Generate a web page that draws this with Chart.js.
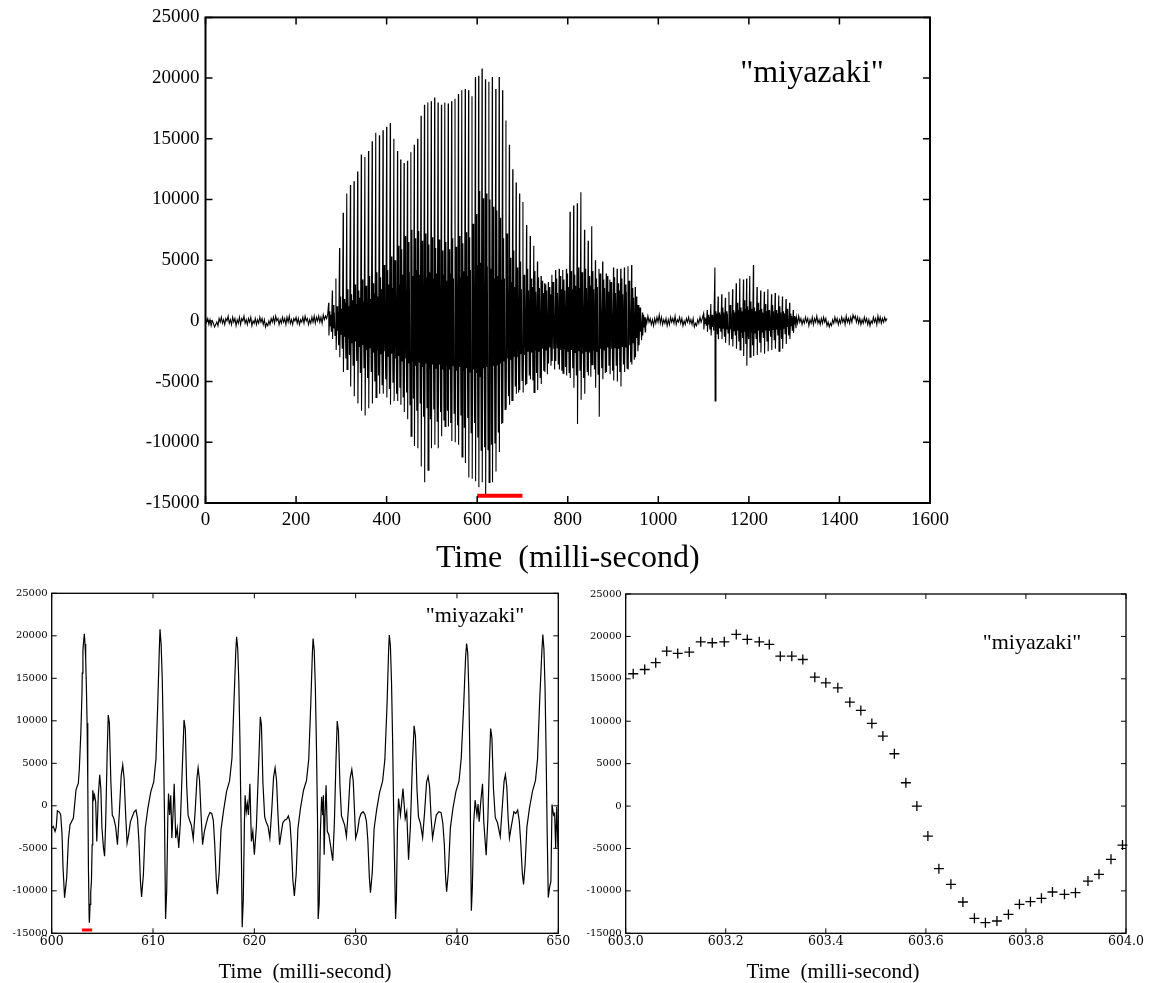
<!DOCTYPE html>
<html><head><meta charset="utf-8">
<script src="https://cdn.jsdelivr.net/npm/chart.js@4"></script>
<style>
html,body{margin:0;padding:0;background:#fff;width:1150px;height:983px;overflow:hidden;position:relative}
.box{position:absolute}
</style></head><body>
<div class="box" style="left:0;top:0;width:960px;height:590px"><canvas id="c1"></canvas></div>
<div class="box" style="left:0;top:570px;width:590px;height:413px"><canvas id="c2"></canvas></div>
<div class="box" style="left:580px;top:570px;width:570px;height:413px"><canvas id="c3"></canvas></div>
<script>
// ---------- DATA ----------
// Top chart: background noise samples (every 2.5 ms from the start time of each stretch)
const noise1Start = 0, noise2Start = 972, noise3Start = 1305, noiseStep = 2.5;
const noise1 = [300,-100,200,-300,100,-400,0,-200,-500,-300, -100,-400,200,-100,300,-200,100,-300,200,0,
  400,-200,100,-300,300,-100,200,-400,100,-200, 300,-300,200,0,400,-200,100,-300,200,-100,
  300,-400,0,-200,200,-300,100,-200,300,-100, 200,-300,100,-500,-200,-400,0,-300,200,-100,
  300,-200,400,0,200,-300,100,-200,300,-100, 200,-300,300,-100,400,-200,100,-300,200,0,
  300,-200,200,-300,100,-100,300,-200,400,0, 200,-300,100,-200,300,-100,400,-200,300,0,
  400,-100,300,-200,500,100,400,200,600];
const noise2 = [300,-200,400,-100,200,-300,100,-400,200,-200, 300,-100,500,-200,300,-300,100,-200,200,-400,
  100,-300,300,-100,200,-200,400,-300,100,-100, 300,-200,200,-400,0,-300,200,-100,300,-200,
  100,-300,200,-500,-200,-400,100,-200,300,-100, 200];
const noise3 = [300,-200,400,-100,200,-300,100,-200,300,-100, 200,-400,100,-200,300,-300,200,-100,400,-200,
  100,-300,200,-200,300,-100,200,-400,-100,-500, -200,-400,100,-200,300,-100,200,-300,100,-200,
  300,-100,200,-300,400,-100,200,-200,300,-100, 500,200,400,-100,300,-200,200,-300,100,-200,
  300,-100,200,-300,100,-400,0,-200,300,-100, 200,-300,400,-100,300,-200,200,-100,300,0, 200];
// Top chart: voiced pitch periods [start ms, peak, trough, 2nd peak, dip, 3rd peak, pre-trough]
const voicedA = [
 [272,1500,-1200,800,-400,500,-900],[280,2500,-1500,1300,-600,700,-1200],[288,3500,-2400,1200,-800,1000,-2000],
 [296,6000,-3000,2000,-1100,1000,-2300],[304,8900,-4200,1800,-1300,1500,-3100],[312,10500,-4000,2600,-1400,1200,-2800],
 [320,11200,-5400,2200,-1800,1700,-3700],[328,11500,-6200,3000,-1700,1400,-3300],[336,12300,-6800,2500,-2100,1900,-4300],
 [344,13700,-7400,3400,-2000,1600,-3900],[352,13500,-7800,2900,-2400,2100,-4700],[360,14000,-7200,3700,-2200,1800,-4200],
 [368,14800,-6800,3100,-2600,2300,-5000],[376,15500,-6300,4000,-2400,2000,-4500],[384,15300,-6000,3600,-2700,2600,-5300],
 [392,15700,-6000,4600,-2500,2300,-4800],[400,16000,-6300,4200,-2900,3000,-5600],[408,16300,-6900,5300,-2700,2700,-5100],
 [416,15000,-6600,5000,-3100,3400,-6000],[424,14000,-6600,6200,-2900,3000,-5500],[431,13300,-6900,5900,-3300,3800,-6300],
 [438.5,13000,-7500,7000,-3100,3400,-5900],[446,13200,-8100,6500,-3500,4000,-6900],[453.5,13900,-9500,7500,-3300,3700,-6400],
 [461,14500,-10300,6800,-3700,4200,-7400],[468.5,15000,-10500,7400,-3400,3800,-6800],[476,16900,-12000,6600,-3800,4100,-7900],
 [483.5,17800,-13300,7200,-3500,3600,-7200],[491,18000,-12300,6300,-3900,4000,-8100],[498.5,18100,-10500,6900,-3600,3500,-7300],
 [506,18400,-10200,6000,-3900,3900,-8300],[513.5,18000,-10500,6700,-3600,3400,-7500],[521,17800,-9500,5800,-4000,3800,-8200],
 [528.5,18000,-8700,6500,-3700,3300,-7400],[536,17900,-8700,5900,-4000,3900,-8400],[543.5,18100,-9900,6800,-3700,3500,-7600],
 [551,18300,-10000,6100,-4100,4000,-8600],[558.5,18700,-10200,7000,-3800,3600,-7800],[566,19000,-11200,6400,-4100,4100,-8800],
 [573.5,19100,-11700,7300,-3900,3700,-8000],[581,19000,-12900,6900,-4200,4200,-9200],[588.5,18500,-13000,8000,-4000,3900,-8400],
 [596,20100,-13200,8800,-4300,4600,-9600],[603.2,20200,-13700,10700,-4600,4800,-10700],[610.7,20800,-13300,10100,-3900,4500,-10400],
 [618.2,19900,-14300,10500,-3800,4500,-10600],[625.8,19700,-13300,10000,-3600,4300,-10200],[633.3,20100,-13300,9400,-3700,3500,-10100],
 [641,19100,-12400,9100,-3600,3700,-9200],[648.5,20100,-10800,8500,-3500,3400,-8500],[656,19000,-8400,6800,-3300,3500,-7300],
 [663.5,16500,-7200,7200,-3100,3000,-6200],[671,14500,-6900,5200,-3200,3200,-6600],[678.5,12500,-6600,5800,-2900,2800,-5400],
 [686,11400,-6000,4400,-3000,3000,-5900],[693.5,10500,-5700,4900,-2700,2600,-4900],[701,9800,-5900,3800,-2800,2900,-5300],
 [709,7900,-5200,4300,-2500,2500,-4500],[717,7000,-4800,3500,-2600,2800,-4900],[725,6200,-5900,4100,-2400,2400,-4300],
 [733,4900,-5700,3600,-2500,2700,-4700],[741,3700,-5200,3300,-2300,2300,-4100],[749,3100,-4200,3000,-2400,2500,-4400],
 [757,3200,-3500,2800,-2200,2200,-3700],[765,3800,-3300,3200,-2300,2400,-4000],[773,4200,-3300,3500,-2200,2300,-3600],
 [781,4300,-4000,3700,-2400,2600,-4100],[789,4200,-4300,3400,-2300,2500,-3800],[797,4300,-4500,3900,-2500,2800,-4300],
 [805,9000,-4700,4100,-2400,2600,-3900],[813,9500,-5500,3800,-2600,2900,-4500],[821,9700,-8500,4400,-2500,2700,-4100],
 [829,10600,-6500,4000,-2700,3000,-4700],[837,7500,-6000,4300,-2500,2700,-4200],[845,6600,-4500,3700,-2600,2900,-4600],
 [853,7800,-3600,4100,-2400,2600,-4000],[861,5000,-5500,3500,-2500,2800,-4400],[869,4300,-7900,3900,-2300,2500,-3900],
 [877,4900,-4800,3400,-2400,2700,-4300],[885,3900,-4200,3700,-2200,2400,-3700],[893,3400,-4400,3200,-2300,2600,-4100],
 [901,4400,-4900,3600,-2200,2300,-3700],[909,4300,-5000,3100,-2300,2500,-4200],[917,4300,-5400,3500,-2100,2200,-3600],
 [925,4400,-4200,3000,-2200,2400,-3900],[933,4500,-4000,3300,-2000,2100,-3400],[941,4600,-3600,2700,-1800,1900,-3200],
 [949,2800,-3000,2000,-1400,1300,-2500],[957,1300,-2000,1100,-900,800,-1600],[965,700,-1200,500,-500,300,-900]
];
const voicedB = [
 [1100,600,-700,300,-200,200,-400],[1108,900,-900,500,-300,300,-700],[1116,1400,-1200,500,-500,400,-800],
 [1125,4400,-6600,800,-500,600,-1100],[1132,2000,-1500,700,-600,500,-900],[1140,2200,-1500,1100,-600,700,-1300],
 [1148,1900,-1800,800,-700,600,-1000],[1156,2400,-2000,1300,-700,800,-1500],[1164,2600,-2100,900,-800,700,-1200],
 [1172,3100,-2300,1500,-800,900,-1700],[1180,3500,-2400,1100,-900,800,-1400],[1188,3400,-2900,1700,-900,1000,-1900],
 [1195,3500,-3700,1200,-1000,900,-1500],[1202,3700,-3000,1600,-900,1000,-2000],[1210,4600,-2900,1100,-1000,800,-1500],
 [1218,2800,-2800,1500,-800,900,-1800],[1226,2500,-2600,1000,-900,700,-1400],[1234,2400,-2700,1400,-800,800,-1700],
 [1242,2600,-2500,900,-800,700,-1300],[1250,2200,-2400,1300,-700,800,-1600],[1258,2300,-2300,900,-700,600,-1200],
 [1266,2100,-2500,1200,-700,700,-1500],[1274,2000,-2300,800,-600,600,-1100],[1282,1800,-1900,1000,-500,500,-1200],
 [1290,1500,-1500,600,-400,400,-800],[1298,900,-1000,400,-300,300,-600]
];
const topMarkT = [600, 700], topMarkV = [-14400, -14400];

// Bottom-left chart: waveform 600-650 ms, one array per pitch period [ms, value]
const blP1 = [[600.00,-2620],[600.16,-2420],[600.33,-3010],[600.45,-2500],[600.56,-590],[600.76,-740],[600.89,-1060],[601.02,-3400],[601.12,-7300],[601.27,-10800],[601.48,-8480],[601.65,-4000],[601.81,-2230],[602.14,-1450],[602.40,1880],[602.63,2660],[602.73,4420],[602.88,8700],[602.99,13280],[603.015,15600],[603.082,18260],[603.150,19360],[603.221,20230],[603.287,19050],[603.354,17280],[603.424,13940],[603.492,9740],[603.560,2750],[603.626,-7380],[603.697,-13240],[603.719,-13750],[603.787,-11590],[603.853,-10130],[603.924,-8840],[603.993,-4600],[604.05,1830],[604.16,850],[604.23,1240],[604.34,470],[604.45,-4190],[604.60,1240],[604.74,3650],[604.85,2020],[604.96,-2640],[605.11,-4970],[605.22,-5940],[605.33,-1860],[605.47,5900],[605.58,10680],[605.69,9790],[605.84,2800],[605.98,-1090],[606.13,-1480],[606.31,-2450],[606.49,-4580],[606.68,-700],[606.86,3570],[607.01,4810],[607.15,3180],[607.30,-1090],[607.44,-4390],[607.59,-3420],[607.77,-1860],[607.95,-1280],[608.14,-700],[608.32,-500],[608.47,-1480],[608.61,-4190],[608.76,-8850],[608.87,-10720],[609.05,-8080],[609.23,-2640],[609.49,-310],[609.78,1630],[610.07,2800],[610.29,5510],[610.47,12110],[610.62,18330]];
const blP2 = [[610.69,20780],[610.80,19000],[610.91,15000],[611.02,8000],[611.13,-1000],[611.24,-13320],[611.35,-10000],[611.46,-1500],[611.53,1440],[611.64,-1090],[611.75,1240],[611.86,-3800],[611.97,-1000],[612.09,2600],[612.24,-3800],[612.39,-2640],[612.54,-4970],[612.70,-2000],[612.89,4500],[613.06,10100],[613.19,9000],[613.32,2500],[613.46,-1100],[613.61,-1700],[613.79,-2300],[613.97,-3880],[614.16,-600],[614.34,3300],[614.45,4460],[614.59,3000],[614.74,-1000],[614.89,-4580],[615.07,-3000],[615.25,-2100],[615.43,-1300],[615.62,-800],[615.80,-900],[615.95,-1700],[616.09,-4500],[616.24,-8600],[616.35,-10410],[616.53,-7800],[616.71,-2800],[616.97,-500],[617.26,1700],[617.55,2900],[617.79,5600],[617.99,12200],[618.17,18200]];
const blP3 = [[618.25,19880],[618.36,18500],[618.47,14500],[618.58,7500],[618.69,-2000],[618.80,-14290],[618.91,-11000],[619.02,-2000],[619.09,1240],[619.20,-700],[619.31,280],[619.42,-1090],[619.56,2600],[619.71,-4190],[619.85,-3000],[620.00,-5750],[620.20,-2500],[620.40,4000],[620.59,10480],[620.70,9500],[620.85,2600],[621.02,-1300],[621.17,-1900],[621.35,-2400],[621.53,-3800],[621.72,-500],[621.90,3400],[622.05,4460],[622.19,3000],[622.34,-1200],[622.49,-4580],[622.63,-3400],[622.81,-2000],[622.99,-1700],[623.18,-1600],[623.36,-1200],[623.51,-1900],[623.65,-4400],[623.80,-8700],[623.95,-10600],[624.13,-8000],[624.30,-2700],[624.55,-300],[624.85,1800],[625.15,3000],[625.37,5500],[625.57,12000],[625.73,18000]];
const blP4 = [[625.80,19690],[625.91,18300],[626.02,14000],[626.13,7000],[626.24,-2000],[626.30,-13320],[626.40,-11500],[626.52,-3000],[626.64,1050],[626.75,-1100],[626.82,1240],[626.89,-5750],[626.98,-1000],[627.08,2410],[627.20,-3000],[627.35,-3400],[627.50,-4500],[627.74,-6450],[627.90,-2000],[628.05,5000],[628.18,9980],[628.30,8800],[628.45,2400],[628.60,-1200],[628.75,-1700],[628.92,-2300],[629.09,-3610],[629.27,-600],[629.45,3200],[629.62,4270],[629.76,2900],[629.90,-1000],[630.00,-3800],[630.18,-3000],[630.36,-1500],[630.54,-900],[630.73,-700],[630.91,-1000],[631.06,-1800],[631.20,-4000],[631.35,-8400],[631.46,-10210],[631.64,-7800],[631.82,-2700],[632.08,-400],[632.37,1600],[632.66,2900],[632.88,5400],[633.10,12000],[633.25,18200]];
const blP5 = [[633.32,20080],[633.43,18800],[633.54,14500],[633.65,7500],[633.76,-1500],[633.94,-13320],[634.02,-11000],[634.12,-3000],[634.23,850],[634.42,-1090],[634.67,2020],[634.89,-1500],[635.04,-700],[635.22,-6330],[635.40,-2500],[635.60,5000],[635.77,9400],[635.90,8200],[636.05,2000],[636.20,-1300],[636.40,-2100],[636.61,-3730],[636.80,-800],[637.00,2800],[637.15,3460],[637.30,2200],[637.45,-1500],[637.59,-3800],[637.80,-2200],[637.96,-1090],[638.20,-700],[638.43,-800],[638.60,-2000],[638.75,-4500],[638.88,-8500],[638.98,-10100],[639.15,-7700],[639.35,-2600],[639.60,-300],[639.90,1700],[640.20,2900],[640.42,5600],[640.65,11500],[640.85,17500]];
const blP6 = [[640.95,19100],[641.06,18000],[641.17,13500],[641.28,5000],[641.35,-5000],[641.42,-12350],[641.52,-9500],[641.65,-2000],[641.79,660],[641.97,-1090],[642.08,200],[642.19,-1860],[642.35,500],[642.52,2600],[642.65,-2000],[642.88,-5820],[643.05,-1500],[643.20,5000],[643.32,9090],[643.45,8000],[643.60,2000],[643.78,-1400],[644.00,-2000],[644.27,-3610],[644.45,-500],[644.65,2900],[644.78,3650],[644.92,2200],[645.05,-1500],[645.18,-3800],[645.35,-2500],[645.62,-700],[645.80,-900],[645.99,-500],[646.15,-1800],[646.30,-4500],[646.45,-8000],[646.57,-9240],[646.72,-7000],[646.90,-2500],[647.15,-300],[647.45,1700],[647.75,3000],[647.95,5500],[648.15,12000],[648.37,18000]];
const blP7 = [[648.47,20150],[648.58,18500],[648.69,14000],[648.80,6000],[648.90,-3000],[649.01,-10800],[649.15,-9500],[649.27,-8900],[649.38,150],[649.53,-1090],[649.64,-900],[649.74,-4970],[649.85,-100],[649.97,-4900]];
const blMarkT = [603, 604], blMarkV = [-14600, -14600];

// Bottom-right chart: individual samples 603-604 ms
const brTime = [603.015,603.038,603.060,603.082,603.104,603.127,603.150,603.173,603.197,603.221,603.243,603.267,603.287,603.309,603.332,603.354,603.378,603.400,603.424,603.448,603.470,603.492,603.514,603.537,603.560,603.582,603.604,603.626,603.650,603.674,603.697,603.719,603.742,603.765,603.787,603.809,603.831,603.853,603.877,603.899,603.924,603.946,603.970,603.993];
const brValue = [15600,16100,16900,18260,17990,18150,19360,19250,19360,20230,19640,19360,19050,17670,17670,17280,15200,14530,13940,12250,11270,9740,8250,6170,2750,0,-3540,-7380,-9230,-11310,-13240,-13750,-13550,-12770,-11590,-11270,-10880,-10130,-10410,-10210,-8840,-8050,-6280,-4600];

const keyText = '"miyazaki"';
const xTitle = 'Time  (milli-second)';

// ---------- BUILD ----------
function noisePts(start, vals) { return vals.map((v, i) => ({x: start + i * noiseStep, y: v})); }
const phase = [0, 0.07, 0.32, 0.45, 0.55, 0.75];
function periodPts(rows) {
  const out = [];
  rows.forEach((r, i) => {
    const p = i < rows.length - 1 ? Math.min(rows[i + 1][0] - r[0], 8.5) : 8;
    for (let k = 0; k < phase.length; k++) out.push({x: r[0] + phase[k] * p, y: r[k + 1]});
  });
  return out;
}
const topPts = [].concat(noisePts(noise1Start, noise1), periodPts(voicedA), noisePts(noise2Start, noise2),
  periodPts(voicedB), noisePts(noise3Start, noise3)).sort((a, b) => a.x - b.x);
const blPts = [].concat(blP1, blP2, blP3, blP4, blP5, blP6, blP7).map(p => ({x: p[0], y: p[1]}));
const brPts = brTime.map((t, i) => ({x: t, y: brValue[i]}));
const pair = (T, V) => T.map((t, i) => ({x: t, y: V[i]}));

Chart.defaults.color = '#000';
Chart.defaults.animation = false;

const frame = {
  id: 'frame',
  afterDraw(chart, args, o) {
    const {ctx, chartArea: a, scales: {x, y}} = chart;
    ctx.save();
    ctx.strokeStyle = '#000';
    ctx.lineWidth = o.tickWidth;
    ctx.beginPath();
    x.ticks.forEach(t => { const px = x.getPixelForValue(t.value);
      ctx.moveTo(px, a.bottom); ctx.lineTo(px, a.bottom - o.len);
      ctx.moveTo(px, a.top); ctx.lineTo(px, a.top + o.len); });
    y.ticks.forEach(t => { const py = y.getPixelForValue(t.value);
      ctx.moveTo(a.left, py); ctx.lineTo(a.left + o.len, py);
      ctx.moveTo(a.right, py); ctx.lineTo(a.right - o.len, py); });
    ctx.stroke();
    ctx.lineWidth = o.width;
    ctx.strokeRect(a.left, a.top, a.right - a.left, a.bottom - a.top);
    ctx.fillStyle = '#000';
    ctx.textAlign = 'center';
    ctx.textBaseline = 'middle';
    (o.texts || []).forEach(tx => { ctx.font = tx.font; ctx.fillText(tx.text, tx.x, tx.y); });
    ctx.restore();
  }
};

function makeChart(id, datasets, c) {
  return new Chart(document.getElementById(id), {
    type: 'line',
    data: {datasets},
    options: {
      responsive: true, maintainAspectRatio: false, animation: false,
      layout: {padding: c.pad},
      plugins: {legend: {display: false}, tooltip: {enabled: false}, frame: c.frame},
      scales: {
        x: {type: 'linear', min: c.xmin, max: c.xmax,
          afterFit: s => { s.height = c.xh; },
          ticks: {stepSize: c.xstep, autoSkip: false, maxRotation: 0, padding: c.xpad, font: c.xfont, callback: c.xfmt},
          grid: {display: false, drawTicks: false}, border: {display: false},
          title: c.xtitle},
        y: {type: 'linear', min: -15000, max: 25000,
          afterFit: s => { s.width = c.yw; },
          ticks: {stepSize: 5000, autoSkip: false, padding: c.ypad, font: c.yfont, callback: v => String(v)},
          grid: {display: false, drawTicks: false}, border: {display: false}}
      }
    },
    plugins: [frame]
  });
}

makeChart('c1', [
  {data: pair(topMarkT, topMarkV), borderColor: '#ff0000', borderWidth: 4, pointRadius: 0, borderCapStyle: 'butt'},
  {data: topPts, borderColor: '#000', borderWidth: 1.1, pointRadius: 0, tension: 0}
], {
  pad: {top: 13, right: 30, left: 0, bottom: 0}, xh: 87, yw: 205.5,
  xmin: 0, xmax: 1600, xstep: 200, xpad: 6, ypad: 6,
  xfont: {family: 'Liberation Serif', size: 19}, yfont: {family: 'Liberation Serif', size: 19},
  xfmt: v => String(v),
  xtitle: {display: true, text: xTitle, font: {family: 'Liberation Serif', size: 32}, color: '#000', padding: {top: 0, bottom: 12}},
  frame: {len: 7, tickWidth: 1.5, width: 2, texts: [{text: keyText, x: 812, y: 74, font: '32px "Liberation Serif"'}]}
});

makeChart('c2', [
  {data: pair(blMarkT, blMarkV), borderColor: '#ff0000', borderWidth: 3, pointRadius: 0, borderCapStyle: 'butt'},
  {data: blPts, borderColor: '#000', borderWidth: 1.2, pointRadius: 0, tension: 0}
], {
  pad: {top: 23.3, right: 31.7, left: 0, bottom: 0}, xh: 49.7, yw: 51.7,
  xmin: 600, xmax: 650, xstep: 10, xpad: 1, ypad: 4,
  xfont: {family: 'DejaVu Serif', size: 12.5}, yfont: {family: 'DejaVu Serif', size: 10},
  xfmt: v => String(v),
  xtitle: {display: true, text: xTitle, font: {family: 'Liberation Serif', size: 21}, color: '#000', padding: {top: 0, bottom: -2}},
  frame: {len: 5, tickWidth: 1, width: 1.3, texts: [{text: keyText, x: 475, y: 46, font: '22px "Liberation Serif"'}]}
});

makeChart('c3', [
  {data: brPts, showLine: false, borderColor: '#000', pointStyle: 'cross', pointRadius: 5, pointBorderWidth: 1.3, pointBorderColor: '#000', clip: false}
], {
  pad: {top: 24, right: 24, left: 0, bottom: 0}, xh: 49.7, yw: 45.7,
  xmin: 603, xmax: 604, xstep: 0.2, xpad: 1, ypad: 4,
  xfont: {family: 'DejaVu Serif', size: 12.5}, yfont: {family: 'DejaVu Serif', size: 10},
  xfmt: v => Number(v).toFixed(1),
  xtitle: {display: false},
  frame: {len: 5, tickWidth: 1, width: 1.3, texts: [
    {text: keyText, x: 452, y: 73, font: '22px "Liberation Serif"'},
    {text: xTitle, x: 253, y: 402, font: '21px "Liberation Serif"'}]}
});
</script>
</body></html>
